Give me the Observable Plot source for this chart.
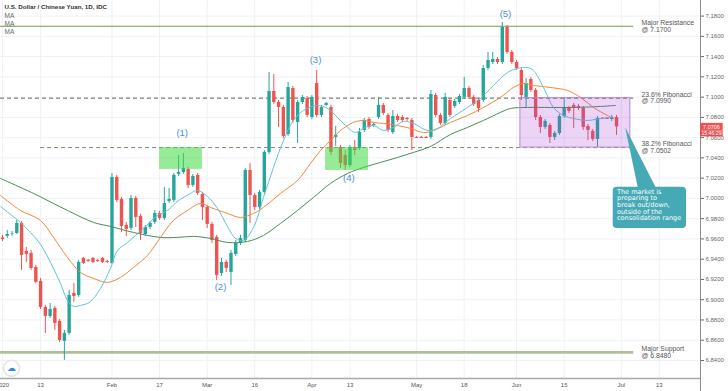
<!DOCTYPE html>
<html><head><meta charset="utf-8">
<script src="https://cdn.jsdelivr.net/npm/d3@7"></script>
<script src="https://cdn.jsdelivr.net/npm/@observablehq/plot@0.6"></script>
<style>html,body{margin:0;padding:0;background:#fff;} svg{display:block;}</style>
</head><body><div id="chart"></div>
<script>
// ---- Daily candles, index 0 = 1 Jan 2020 (trading days) ----
const open = [6.9610,6.9625,6.9649,6.9654,6.9753,6.9477,6.9457,6.9319,6.9181,6.8924,
6.8835,6.8914,6.8786,6.8588,6.8667,6.9062,6.9042,6.9408,6.9388,6.9408,
6.9388,6.9408,6.9378,6.9358,7.0207,6.9990,6.9733,6.9704,7.0000,6.9822,
6.9644,6.9714,6.9763,6.9852,6.9802,6.9970,6.9980,7.0237,7.0256,7.0286,
7.0128,7.0227,7.0039,6.9911,6.9743,6.9615,6.9259,6.9368,6.9269,6.9447,
6.9556,6.9585,7.0276,7.0029,6.9911,7.0059,7.0454,7.1056,7.0947,7.0898,
7.0631,7.1085,7.0750,7.0947,7.0987,7.0799,7.1135,7.0819,7.0918,7.0898,
7.0602,7.0503,7.0424,7.0325,7.0503,7.0493,7.0671,7.0779,7.0720,7.0799,
7.0918,7.0819,7.0651,7.0809,7.0799,7.0789,7.0770,7.0602,7.0602,7.0602,
7.0602,7.1016,7.0819,7.0740,7.0967,7.0908,7.0947,7.0997,7.1085,7.0997,
7.0967,7.0967,7.1283,7.1342,7.1372,7.1342,7.1688,7.1441,7.1342,7.1263,
7.0997,7.1174,7.1066,7.0799,7.0701,7.0720,7.0602,7.0641,7.0809,7.0888,
7.0918,7.0908,7.0888,7.0710,7.0661,7.0582,7.0789,7.0789,7.0779,7.0799];
const high = [6.9635,6.9684,6.9674,6.9783,6.9773,6.9516,6.9486,6.9338,6.9210,6.8944,
6.8963,6.8934,6.8805,6.8697,6.9092,6.9161,6.9388,6.9417,6.9398,6.9417,
6.9398,6.9417,6.9388,7.0246,7.0227,7.0010,6.9763,7.0029,7.0019,6.9842,
6.9733,6.9773,6.9881,6.9871,7.0108,7.0098,7.0246,7.0424,7.0444,7.0306,
7.0237,7.0246,7.0059,6.9931,6.9763,6.9635,6.9408,6.9388,6.9486,6.9585,
6.9635,7.0296,7.0345,7.0049,7.0079,7.0473,7.1243,7.1224,7.0967,7.0918,
7.1145,7.1105,7.0967,7.1016,7.1006,7.1016,7.1263,7.0918,7.0947,7.0918,
7.0710,7.0523,7.0473,7.0523,7.0572,7.0691,7.0789,7.0799,7.0750,7.0997,
7.0938,7.0839,7.0868,7.0829,7.0819,7.0799,7.0789,7.0612,7.0612,7.0612,
7.1066,7.1036,7.0839,7.1036,7.0987,7.0977,7.1026,7.1194,7.1105,7.1016,
7.0987,7.1312,7.1441,7.1441,7.1391,7.1737,7.1707,7.1460,7.1362,7.1283,
7.1184,7.1194,7.1085,7.0819,7.0779,7.0740,7.0661,7.0829,7.0997,7.0908,
7.0938,7.0928,7.0908,7.0730,7.0681,7.0809,7.0799,7.0799,7.0819,7.0819];
const low = [6.9575,6.9605,6.9625,6.9644,6.9289,6.9368,6.9289,6.9161,6.8904,6.8667,
6.8815,6.8697,6.8578,6.8401,6.8648,6.8973,6.9023,6.9348,6.9368,6.9358,
6.9368,6.9358,6.9358,6.9348,6.9960,6.9664,6.9625,6.9684,6.9714,6.9585,
6.9625,6.9694,6.9743,6.9783,6.9783,6.9950,6.9960,7.0217,7.0237,7.0098,
7.0108,7.0029,6.9783,6.9704,6.9556,6.9190,6.9230,6.9269,6.9141,6.9427,
6.9536,6.9565,6.9753,6.9881,6.9891,7.0039,7.0434,7.0928,7.0701,7.0592,
7.0612,7.0740,7.0543,7.0928,7.0799,7.0779,7.0799,7.0799,7.0908,7.0424,
7.0513,7.0296,7.0276,7.0306,7.0424,7.0473,7.0651,7.0681,7.0701,7.0779,
7.0819,7.0651,7.0631,7.0750,7.0750,7.0760,7.0473,7.0592,7.0592,7.0592,
7.0582,7.0799,7.0720,7.0720,7.0799,7.0888,7.0928,7.0977,7.0977,7.0908,
7.0849,7.0947,7.1263,7.1322,7.1322,7.1322,7.1421,7.1322,7.1263,7.0967,
7.0898,7.1046,7.0770,7.0641,7.0681,7.0543,7.0572,7.0622,7.0789,7.0839,
7.0691,7.0868,7.0671,7.0572,7.0562,7.0503,7.0779,7.0779,7.0760,7.0622];
const close = [6.9595,6.9644,6.9654,6.9753,6.9437,6.9447,6.9309,6.9171,6.8924,6.8835,
6.8904,6.8766,6.8598,6.8667,6.9042,6.9032,6.9368,6.9358,6.9378,6.9368,
6.9378,6.9368,6.9368,7.0207,6.9980,6.9723,6.9694,7.0000,6.9812,6.9654,
6.9714,6.9753,6.9852,6.9802,6.9950,6.9990,7.0227,7.0256,7.0296,7.0128,
7.0217,7.0049,6.9911,6.9743,6.9585,6.9240,6.9368,6.9309,6.9457,6.9556,
6.9605,7.0276,7.0029,6.9911,7.0059,7.0454,7.1056,7.0947,7.0898,7.0612,
7.1095,7.0770,7.0947,7.0997,7.0819,7.0997,7.0819,7.0898,7.0937,7.0454,
7.0622,7.0345,7.0325,7.0503,7.0473,7.0651,7.0770,7.0701,7.0730,7.0918,
7.0839,7.0671,7.0809,7.0770,7.0770,7.0779,7.0602,7.0592,7.0592,7.0592,
7.1026,7.0819,7.0740,7.0997,7.0819,7.0957,7.1006,7.1085,7.0997,7.0928,
7.0888,7.1283,7.1362,7.1372,7.1342,7.1688,7.1441,7.1342,7.1283,7.1016,
7.1135,7.1066,7.0799,7.0701,7.0760,7.0602,7.0641,7.0809,7.0888,7.0859,
7.0888,7.0888,7.0701,7.0671,7.0582,7.0789,7.0779,7.0779,7.0799,7.0706];

// ---- Moving averages (bar index, value) ----
const maFastIdx = [-0.42,1.68,3.78,5.88,7.98,10.08,12.18,13.66,14.92,16.39,17.86,19.12,20.59,22.69,24.16,26.26,29.62,32.56,34.66,36.76,39.5,40.97,43.07,45.17,47.27,48.95,50.63,52.73,54.83,56.93,59.03,61.13,63.24,66.18,68.28,70.38,72.06,74.16,75.84,77.94,80.04,82.14,84.24,86.34,89.29,91.39,94.12,97.69,100.42,103.15,106.09,108.19,110.29,111.55,113.66,115.76,117.86,119.96,122.9,125.63,127.94];
const maFastVal = [6.9921,6.9842,6.9763,6.9664,6.9546,6.9368,6.9161,6.8993,6.8934,6.8944,6.8963,6.9013,6.9111,6.9309,6.9487,6.9565,6.9704,6.9832,6.9881,6.9970,7.0049,7.0079,7.0019,6.9901,6.9723,6.9605,6.9585,6.9714,7.0010,7.0306,7.0572,7.0770,7.0868,7.0918,7.0888,7.0799,7.0720,7.0651,7.0691,7.0720,7.0671,7.0701,7.0760,7.0740,7.0671,7.0691,7.0789,7.0898,7.0987,7.1115,7.1243,7.1283,7.1293,7.1263,7.1095,7.0898,7.0819,7.0789,7.0770,7.0789,7.0799];
const maMidIdx = [-0.42,3.78,7.98,10.71,13.66,16.39,19.12,22.06,24.79,27.52,30.46,33.19,35.92,38.87,41.6,43.7,47.27,50,52.73,54.83,58.4,61.97,64.71,66.81,68.91,71.01,73.74,75.84,77.94,80.04,82.98,85.71,88.45,90.55,94.12,97.69,101.05,104.62,107.35,109.45,111.55,115.13,118.7,121.43,124.16,127.1,128.36];
const maMidVal = [7.0029,6.9881,6.9783,6.9615,6.9417,6.9269,6.9210,6.9171,6.9220,6.9319,6.9437,6.9615,6.9783,6.9881,6.9950,6.9911,6.9852,6.9812,6.9852,6.9911,7.0049,7.0177,7.0345,7.0473,7.0572,7.0671,7.0750,7.0770,7.0750,7.0740,7.0720,7.0691,7.0651,7.0671,7.0750,7.0819,7.0898,7.0997,7.1095,7.1135,7.1115,7.1095,7.1066,7.0997,7.0898,7.0819,7.0789];
const maSlowIdx = [-0.42,6.51,13.66,19.12,22.69,27.52,33.19,36.76,40.13,43.7,47.27,51.47,54.83,58.4,61.97,65.34,68.91,72.48,75.84,79.41,82.98,86.34,89.92,94.12,97.69,101.05,104.62,106.72,110.29,115.13,119.96,125.63,128.78];
const maSlowVal = [7.0197,7.0049,6.9881,6.9763,6.9723,6.9664,6.9615,6.9615,6.9625,6.9605,6.9565,6.9575,6.9635,6.9753,6.9881,7.0010,7.0148,7.0246,7.0306,7.0355,7.0404,7.0454,7.0513,7.0631,7.0701,7.0770,7.0849,7.0888,7.0898,7.0898,7.0898,7.0908,7.0918];

// ---- Axis ticks ----
const yTicks = [6.84,6.86,6.88,6.90,6.92,6.94,6.96,6.98,7.00,7.02,7.04,7.06,7.08,7.10,7.12,7.14,7.16,7.18];
const xTickIdx = [0,8,23,33,43,53,65,73,87,97,108,118,130,138];
const xTickLabels = ["2020","13","Feb","17","Mar","16","Apr","13","May","18","Jun","15","Jul","13"];

// ---- Levels and annotations ----
const levelValues = [7.1700, 7.0990, 7.0502, 6.8480];
const levelLabels = ["Major Resistance\n@ 7.1700","23.6% Fibonacci\n@ 7.0990","38.2% Fibonacci\n@ 7.0502","Major Support\n@ 6.8480"];
const waveLabels = ["(1)","(2)","(3)","(4)","(5)"];
const waveIdx = [37.75, 45.8, 65.76, 72.75, 105.67];
const waveVal = [7.0644, 6.9121, 7.1369, 7.0204, 7.1823];
const calloutText = "The market is\npreparing to\nbreak out/down,\noutside of the\nconsolidation range";

const xDomain = [-0.42, 146.64];
const yDomain = [6.8222, 7.1954];
const lineEnd = 132.6;

const GREEN = "#26a69a", RED = "#ef5350";
const candles = open.map((o, i) => ({i, o, h: high[i], l: low[i], c: close[i]}));
const upC = candles.filter(d => d.c >= d.o);
const dnC = candles.filter(d => d.c < d.o);
const toPts = (ix, vs) => ix.map((x, k) => ({x, v: vs[k]}));
const last = candles[candles.length - 1];

const greenZones = [{x1: 33, x2: 42, y1: 7.0286, y2: 7.0502}, {x1: 67.86, x2: 76.89, y1: 7.0276, y2: 7.0502}];
const rangeZone = [{x1: 108.8, x2: 131.9, y1: 7.0502, y2: 7.0990}];
const pointer = [{x: 130.9, a: 7.0700, b: 7.0700}, {x: 133.6, a: 7.0448, b: 7.0098}, {x: 137.4, a: 7.0098, b: 7.0098}];
const calloutBox = [{x1: 128.3, x2: 143.7, y1: 6.9704, y2: 7.0111}];
const font = "'Liberation Sans', Arial, sans-serif";

const chart = Plot.plot({
  width: 728, height: 391,
  marginLeft: 0, marginRight: 28, marginTop: 0, marginBottom: 13,
  style: {fontFamily: font, background: "#fff", overflow: "visible"},
  x: {domain: xDomain, axis: null},
  y: {domain: yDomain, axis: null},
  marks: [
    Plot.gridY(yTicks, {stroke: "#eef1f7", strokeOpacity: 1}),
    Plot.gridX(xTickIdx, {stroke: "#eef1f7", strokeOpacity: 1}),
    // levels
    Plot.ruleY([levelValues[0]], {x1: xDomain[0], x2: lineEnd, stroke: "#6f9a52", strokeWidth: 1.2}),
    Plot.ruleY([levelValues[3]], {x1: xDomain[0], x2: lineEnd, stroke: "#aebf9c", strokeWidth: 2.6}),
    Plot.ruleY([levelValues[1]], {x1: xDomain[0], x2: lineEnd, stroke: "#56694a", strokeWidth: 1, strokeDasharray: "4,3"}),
    Plot.ruleY([levelValues[2]], {x1: 8, x2: lineEnd, stroke: "#7f8a78", strokeWidth: 1, strokeDasharray: "4,3"}),
    // candles
    Plot.ruleX(upC, {x: "i", y1: "l", y2: "h", stroke: GREEN, strokeWidth: 1}),
    Plot.ruleX(dnC, {x: "i", y1: "l", y2: "h", stroke: RED, strokeWidth: 1}),
    Plot.ruleX(upC, {x: "i", y1: "o", y2: "c", stroke: GREEN, strokeWidth: 3.4}),
    Plot.ruleX(dnC, {x: "i", y1: "o", y2: "c", stroke: RED, strokeWidth: 3.4}),
    // moving averages
    Plot.line(toPts(maSlowIdx, maSlowVal), {x: "x", y: "v", stroke: "#4a8d55", strokeWidth: 1, curve: "catmull-rom"}),
    Plot.line(toPts(maMidIdx, maMidVal), {x: "x", y: "v", stroke: "#f5873e", strokeWidth: 1, curve: "catmull-rom"}),
    Plot.line(toPts(maFastIdx, maFastVal), {x: "x", y: "v", stroke: "#62c3d6", strokeWidth: 1, curve: "catmull-rom"}),
    // zones
    Plot.rect(greenZones, {x1: "x1", x2: "x2", y1: "y1", y2: "y2", fill: "#3fdc3f", fillOpacity: 0.55}),
    Plot.rect(rangeZone, {x1: "x1", x2: "x2", y1: "y1", y2: "y2", fill: "#a63bd6", fillOpacity: 0.22, stroke: "#b58ad8", strokeWidth: 1}),
    // callout
    Plot.areaY(pointer, {x: "x", y1: "a", y2: "b", fill: "#45a9b6"}),
    Plot.rect(calloutBox, {x1: "x1", x2: "x2", y1: "y1", y2: "y2", fill: "#45a9b6", rx: 4}),
    Plot.text([calloutText], {x: 129.1, y: 7.0094, text: d => d, fill: "#fff", fontSize: 6.5, lineHeight: 1.03, textAnchor: "start", lineAnchor: "top", fontFamily: "'DejaVu Sans', sans-serif"}),
    // axes
    Plot.ruleY([yDomain[0]], {stroke: "#a9a9a9", strokeWidth: 1.3}),
    Plot.ruleX([xDomain[1]], {stroke: "#8c8c8c", strokeWidth: 1, insetBottom: -13}),
    Plot.axisY(yTicks, {anchor: "right", tickSize: 3, tickPadding: 2, tickFormat: d => d.toFixed(4), fontSize: 6, color: "#666"}),
    Plot.axisX(xTickIdx, {tickSize: 0, tickPadding: 4, tickFormat: d => xTickLabels[xTickIdx.indexOf(d)], fontSize: 6, color: "#555"}),
    // last price tag
    Plot.rect([last], {x1: 146.64, x2: 151.4, y1: d => d.c - 0.0035, y2: d => d.c + 0.0035, fill: RED}),
    Plot.rect([last], {x1: 146.64, x2: 151.4, y1: d => d.c - 0.0098, y2: d => d.c - 0.0038, fill: "#e94b4f"}),
    Plot.text([last], {x: 148.95, y: "c", text: d => d.c.toFixed(4), fill: "#fff", fontSize: 5.5}),
    Plot.text([last], {x: 148.95, y: d => d.c - 0.0068, text: () => "15:46:29", fill: "#fff", fontSize: 5.2}),
    // labels
    Plot.text(levelValues, {x: 134.24, y: d => d, text: (d, i) => levelLabels[i], textAnchor: "start", fontSize: 6.8, lineHeight: 0.95, fill: "#555"}),
    Plot.text(waveLabels, {x: (d, i) => waveIdx[i], y: (d, i) => waveVal[i], text: d => d, fill: "#4a90d9", fontSize: 9.5}),
    Plot.text(["U.S. Dollar / Chinese Yuan, 1D, IDC"], {frameAnchor: "top-left", dx: 4, dy: 4.5, text: d => d, fontSize: 6.2, fontWeight: "bold", fill: "#333", textAnchor: "start", lineAnchor: "top"}),
    Plot.text(["MA\nMA\nMA"], {frameAnchor: "top-left", dx: 4, dy: 12, text: d => d, fontSize: 6.5, lineHeight: 1.22, fill: "#666", textAnchor: "start", lineAnchor: "top"}),
    // logo
    Plot.dot([0], {x: 1.9, y: 6.8322, r: 8, fill: "#fff", stroke: "#e3e3e3"}),
    Plot.text(["\u2601"], {x: 1.9, y: 6.8322, text: d => d, fill: "#2e8fe0", fontSize: 9})
  ]
});
document.getElementById("chart").appendChild(chart);
</script>
</body></html>
